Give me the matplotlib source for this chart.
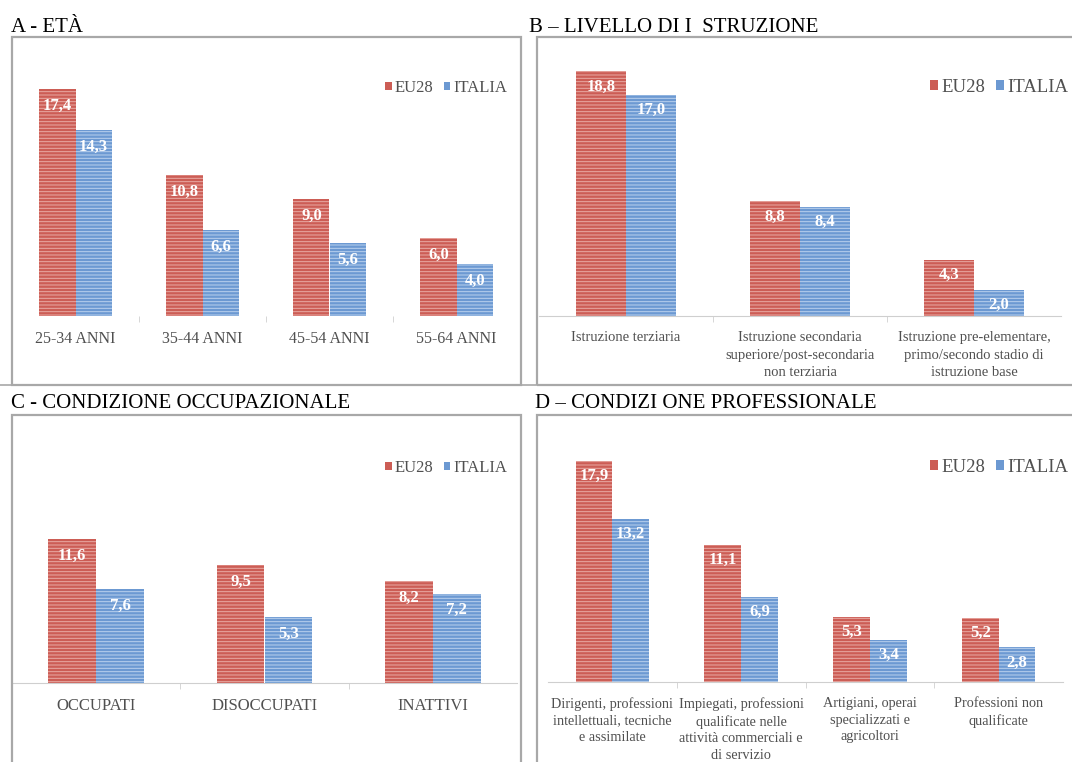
import matplotlib
matplotlib.use("Agg")
import matplotlib.pyplot as plt
from matplotlib.patches import Rectangle, Patch
import numpy as np

# ---- data ----
eta_cat = ["25-34 ANNI", "35-44 ANNI", "45-54 ANNI", "55-64 ANNI"]
eta_eu28 = [17.4, 10.8, 9.0, 6.0]
eta_italia = [14.3, 6.6, 5.6, 4.0]

istr_cat = ["Istruzione terziaria",
            "Istruzione secondaria\nsuperiore/post-secondaria\nnon terziaria",
            "Istruzione pre-elementare,\nprimo/secondo stadio di\nistruzione base"]
istr_eu28 = [18.8, 8.8, 4.3]
istr_italia = [17.0, 8.4, 2.0]

occ_cat = ["OCCUPATI", "DISOCCUPATI", "INATTIVI"]
occ_eu28 = [11.6, 9.5, 8.2]
occ_italia = [7.6, 5.3, 7.2]

prof_cat = ["Dirigenti, professioni\nintellettuali, tecniche\ne assimilate",
            "Impiegati, professioni\nqualificate nelle\nattività commerciali e\ndi servizio",
            "Artigiani, operai\nspecializzati e\nagricoltori",
            "Professioni non\nqualificate"]
prof_eu28 = [17.9, 11.1, 5.3, 5.2]
prof_italia = [13.2, 6.9, 3.4, 2.8]

titles = ["A - ETÀ", "B – LIVELLO DI I  STRUZIONE",
          "C - CONDIZIONE OCCUPAZIONALE", "D – CONDIZI ONE PROFESSIONALE"]

W, H = 1072, 762
RED, RED_H = "#CC5D55", "#E9AAA4"
BLUE, BLUE_H = "#6C99D2", "#B9D1EE"
GRAY = "#505050"
SERIF = ["Liberation Serif", "DejaVu Serif"]

plt.rcParams["font.family"] = SERIF
plt.rcParams["hatch.linewidth"] = 0.7

fig = plt.figure(figsize=(W / 100, H / 100), dpi=100)
fig.patch.set_facecolor("white")


def px_axes(left, top, right, bottom):
    return fig.add_axes([left / W, 1 - bottom / H, (right - left) / W, (bottom - top) / H])


def frame(left, top, right, bottom):
    fig.add_artist(Rectangle((left / W, 1 - bottom / H), (right - left) / W, (bottom - top) / H,
                             transform=fig.transFigure, fill=False, edgecolor="#A8A8A8",
                             linewidth=1.6))


# panel frames and titles
frame(12, 37, 521, 385)
frame(537, 37, 1080, 385)
frame(12, 415, 521, 770)
frame(537, 415, 1080, 770)
fig.add_artist(plt.Line2D([0, 1], [1 - 385 / H, 1 - 385 / H], transform=fig.transFigure,
                          color="#A8A8A8", linewidth=1.2))
fig.text(11 / W, 1 - 32 / H, titles[0], fontsize=15, ha="left", va="baseline")
fig.text(529 / W, 1 - 32 / H, titles[1], fontsize=15, ha="left", va="baseline")
fig.text(11 / W, 1 - 408 / H, titles[2], fontsize=15, ha="left", va="baseline")
fig.text(535 / W, 1 - 408 / H, titles[3], fontsize=15, ha="left", va="baseline")


def panel(box, cats, eu, it, lab_fs, lab_ls, val_off, leg_xy, leg_fs, show_base=True):
    ax = px_axes(*box)
    x = np.arange(len(cats))
    w = 0.285
    b1 = ax.bar(x - w / 2, eu, w, color=RED, edgecolor=RED_H, linewidth=0, hatch="-----")
    b2 = ax.bar(x + w / 2, it, w, color=BLUE, edgecolor=BLUE_H, linewidth=0, hatch="-----")
    for bars, vals in ((b1, eu), (b2, it)):
        for r, v in zip(bars, vals):
            ax.annotate(f"{v:.1f}".replace(".", ","), (r.get_x() + r.get_width() / 2, v),
                        xytext=(0, -val_off), textcoords="offset points", ha="center",
                        va="center", color="white", fontsize=12, fontweight="bold")
    ax.set_xlim(-0.5, len(cats) - 0.5)
    ax.set_ylim(0, 21.2)
    ax.set_xticks(x)
    ax.set_xticklabels(cats, fontsize=lab_fs, color=GRAY, linespacing=lab_ls)
    ax.set_xticks(np.arange(len(cats) - 1) + 0.5, minor=True)
    ax.tick_params(axis="x", which="major", length=0, pad=11)
    ax.tick_params(axis="x", which="minor", length=4, color="#D0D0D0", direction="out")
    ax.set_yticks([])
    for s in ("top", "right", "left"):
        ax.spines[s].set_visible(False)
    ax.spines["bottom"].set_color("#CFCFCF")
    ax.spines["bottom"].set_visible(show_base)
    ax.patch.set_alpha(0)
    handles = [Patch(facecolor=RED, label="EU28"), Patch(facecolor=BLUE, label="ITALIA")]
    fig.legend(handles=handles, loc="center left",
               bbox_to_anchor=(leg_xy[0] / W, 1 - leg_xy[1] / H), ncol=2, frameon=False,
               handlelength=0.4, handleheight=0.4, handletextpad=0.2, columnspacing=0.6,
               borderpad=0, borderaxespad=0, prop={"size": leg_fs, "family": SERIF},
               labelcolor=GRAY)
    return ax


panel((12, 40, 520, 316), eta_cat, eta_eu28, eta_italia, 11.5, 1.2, 12, (385, 88), 12, show_base=False)
panel((539, 40, 1061, 316), istr_cat, istr_eu28, istr_italia, 10.5, 1.45, 11, (930, 87), 13.5)
panel((12, 420, 517, 683), occ_cat, occ_eu28, occ_italia, 12, 1.2, 12, (385, 468), 12)
panel((548, 420, 1063, 682), prof_cat, prof_eu28, prof_italia, 10.3, 1.35, 11, (930, 467), 13.5)

fig.savefig("out.png", dpi=100)
